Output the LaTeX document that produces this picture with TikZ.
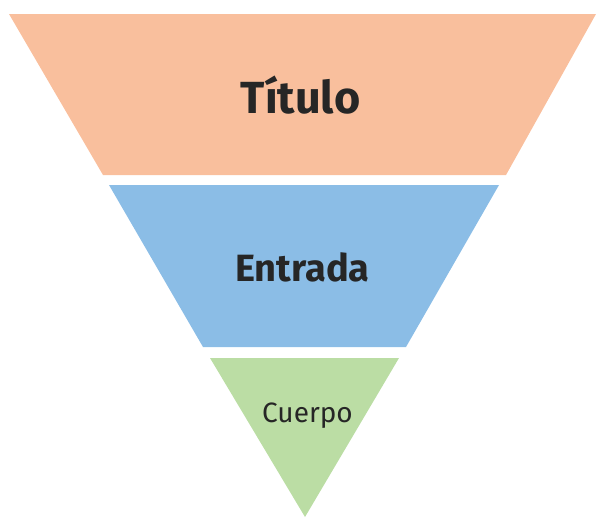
\documentclass[tikz,border=0pt]{standalone}
\usepackage{fontspec}
\setmainfont{Fira Sans}
\definecolor{tituloorange}{HTML}{F9BF9D}
\definecolor{entradablue}{HTML}{8BBDE6}
\definecolor{cuerpogreen}{HTML}{BBDDA4}
\tikzset{
	label text/.style={anchor=base, inner sep=0pt, text=black!85},
}
\begin{document}
\begin{tikzpicture}[x=1pt, y=-1pt]
	\useasboundingbox (0,0) rectangle (596,517);

	%top band
	\fill[tituloorange] (9,14) -- (596,14) -- (506,175) -- (103,175) -- cycle;
	\node[label text, font=\fontsize{45}{50}\selectfont\bfseries] (titulo) at (300.5,113) {Título};

	%middle band
	\fill[entradablue] (109,185) -- (499,185) -- (406,347) -- (203,347) -- cycle;
	\node[label text, font=\fontsize{38}{44}\selectfont\bfseries] (entrada) at (302.5,281) {Entrada};

	%tip
	\fill[cuerpogreen] (210,358) -- (399,358) -- (305,517) -- cycle;
	\node[label text, font=\fontsize{28}{32}\selectfont] (cuerpo) at (307.5,422) {Cuerpo};
\end{tikzpicture}
\end{document}
